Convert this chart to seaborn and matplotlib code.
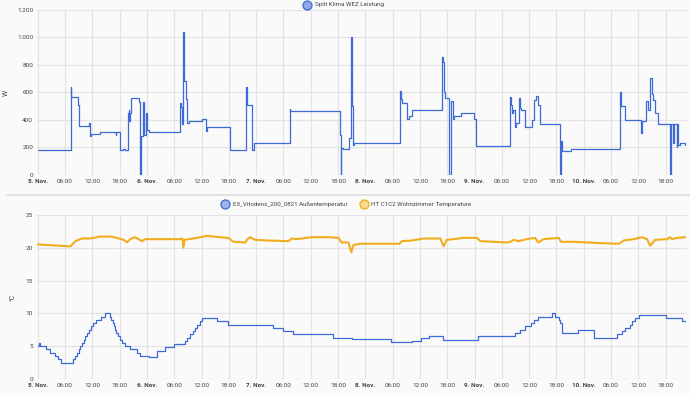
# History chart: Split Klima power + temperatures, 5.-10. Nov.

import numpy as np
import matplotlib
matplotlib.use("Agg")
import matplotlib.pyplot as plt
import seaborn as sns


# Power (W), hours since 5. Nov 00:00, step values
power_h = [0, 7.25, 7.4, 8.85, 9.15, 11.3, 11.6, 11.7, 13.6, 17.1, 17.25, 18.1, 18.8, 19.1,
           19.85, 20.05, 20.15, 20.35, 20.55, 22.25, 22.55, 22.75, 23.05, 23.25, 23.75, 23.95,
           24.35, 31.2, 31.4, 31.8, 32.0, 32.2, 32.55, 32.75, 32.9, 33.2, 36.15, 36.95, 37.25,
           42.3, 45.7, 45.9, 46.1, 47.0, 47.5, 55.4, 55.55, 66.35, 66.55, 66.75, 67.05, 68.5,
           68.8, 69.1, 69.3, 69.5, 79.65, 79.85, 80.15, 81.25, 81.55, 82.35, 88.75, 89.0, 89.2,
           89.5, 90.4, 90.8, 91.3, 91.6, 92.95, 95.85, 96.35, 103.7, 104.0, 104.3, 104.5, 104.8,
           105.2, 105.7, 106.0, 106.3, 107.2, 108.65, 109.15, 109.55, 109.85, 110.45, 114.8,
           115.0, 115.2, 117.1, 128.0, 128.2, 129.0, 132.5, 132.9, 133.7, 134.1, 134.6, 135.0,
           135.3, 135.7, 136.25, 139.05, 139.25, 139.55, 139.75, 140.4, 140.6, 140.8, 141.1, 142.3]
power_w = [185, 640, 570, 510, 356, 376, 280, 296, 310, 290, 310, 182, 192, 182,
           448, 470, 390, 450, 560, 530, 0, 280, 530, 290, 450, 330,
           315, 520, 497, 370, 1040, 680, 550, 500, 380, 390, 410, 320, 350,
           182, 640, 520, 510, 182, 230, 478, 465, 291, 0, 194, 188, 270,
           1000, 500, 218, 232, 611, 550, 526, 405, 430, 470, 860, 820, 600,
           560, 0, 540, 405, 430, 450, 405, 210, 570, 510, 450, 470, 350,
           380, 557, 490, 470, 351, 400, 545, 575, 510, 371, 0,
           250, 177, 187, 606, 502, 398, 308, 390, 540, 470, 703, 590,
           545, 450, 371, 0, 370, 230, 370, 200, 370, 218, 230, 220]

# Outdoor temperature (°C), step values
out_h = [0, 0.2, 0.6, 1.76, 2.6, 3.7, 4.5, 5.2, 7.75, 8.2, 8.65, 9.1, 9.4, 9.7, 10.1, 10.5,
         10.8, 11.3, 11.7, 12.1, 12.9, 13.9, 14.7, 15.9, 16.2, 16.5, 16.8, 17.0, 17.3, 17.6,
         18.0, 18.6, 19.2, 20.3, 21.8, 22.4, 24.5, 26.3, 27.9, 30.0, 32.3, 32.9, 33.5, 34.1,
         34.6, 35.0, 35.6, 36.2, 39.5, 41.8, 51.8, 53.8, 56.0, 65.0, 69.07, 77.7, 82.3, 84.2,
         86.1, 89.0, 96.8, 104.8, 106.1, 107.2, 108.4, 109.1, 109.9, 113.0, 113.7, 114.5,
         114.8, 115.2, 118.7, 122.2, 127.4, 128.4, 129.1, 130.1, 130.7, 131.3, 132.1, 132.8,
         138.1, 141.6, 142.3]
out_c = [5.0, 5.5, 5.0, 4.5, 4.0, 3.5, 3.0, 2.5, 3.0, 3.5, 4.0, 4.5, 5.0, 5.5, 6.0, 6.5,
         7.0, 7.5, 8.0, 8.5, 9.0, 9.5, 10.0, 9.5, 9.0, 8.5, 8.0, 7.5, 7.0, 6.5,
         6.0, 5.5, 5.0, 4.5, 4.0, 3.5, 3.3, 4.3, 4.8, 5.3, 5.8, 6.3, 6.8, 7.3,
         7.8, 8.3, 8.8, 9.3, 8.8, 8.3, 7.8, 7.3, 6.8, 6.3, 6.1, 5.6, 5.8, 6.3,
         6.5, 6.0, 6.5, 7.0, 7.5, 8.0, 8.5, 9.0, 9.5, 10.0, 9.5, 9.0,
         8.5, 7.0, 7.5, 6.3, 6.8, 7.3, 7.8, 8.3, 8.8, 9.3, 9.8, 9.8,
         9.3, 8.8, 8.8]

# Living room temperature (°C)
room_h = [0, 7.2, 8.3, 9.7, 11.5, 13.8, 16.0, 17.4, 18.9, 19.6, 20.3, 21.2, 21.9, 22.9, 23.6,
          31.3, 31.8, 32.0, 32.3, 35.0, 37.2, 40.1, 41.9, 43.0, 45.6, 46.1, 46.7, 47.8, 50.4,
          55.1, 55.8, 56.9, 60.2, 64.2, 66.1, 66.8, 68.3, 68.9, 69.4, 70.9, 79.5, 80.1, 82.3,
          84.8, 88.5, 89.2, 89.9, 91.4, 93.6, 96.5, 97.3, 103.1, 103.9, 104.6, 105.7, 107.5,
          109.3, 110.0, 111.2, 114.5, 115.0, 117.8, 123.6, 127.6, 128.0, 128.8, 131.0, 132.8,
          133.9, 134.6, 135.7, 138.3, 139.0, 139.4, 140.5, 142.3]
room_c = [20.5, 20.2, 21.0, 21.4, 21.4, 21.7, 21.7, 21.5, 21.2, 20.8, 21.3, 21.6, 21.4, 21.0, 21.3,
          21.3, 21.4, 20.0, 21.2, 21.5, 21.8, 21.6, 21.5, 20.9, 20.8, 21.3, 21.6, 21.2, 21.1,
          21.0, 21.4, 21.3, 21.6, 21.6, 21.5, 20.8, 20.8, 19.3, 20.4, 20.6, 20.6, 21.0, 21.1,
          21.4, 21.4, 20.2, 21.2, 21.3, 21.5, 21.5, 21.0, 20.8, 20.9, 21.2, 21.0, 21.3,
          21.5, 20.8, 21.3, 21.5, 20.9, 20.9, 20.7, 20.6, 20.7, 21.1, 21.3, 21.6,
          21.3, 20.3, 21.2, 21.3, 21.6, 21.3, 21.5, 21.6]

x_ticks = list(range(0, 144, 6))
day_names = ["5. Nov.", "6. Nov.", "7. Nov.", "8. Nov.", "9. Nov.", "10. Nov."]
x_labels = []
for t in x_ticks:
    if t % 24 == 0:
        x_labels.append(day_names[t // 24])
    else:
        x_labels.append("%02d:00" % (t % 24))

power_ticks = [0, 200, 400, 600, 800, 1000, 1200]
power_labels = ["0", "200", "400", "600", "800", "1.000", "1.200"]
temp_ticks = [0, 5, 10, 15, 20, 25]

blue = "#3d6ad6"
orange = "#f2ad1f"
bg = "#fafafa"

sns.set_style("whitegrid")
plt.rcParams['font.family'] = ['Roboto', 'DejaVu Sans']

fig = plt.figure(figsize=(6.9, 3.95), dpi=100)
fig.patch.set_facecolor(bg)

ax1 = fig.add_axes([0.054, 0.557, 0.941, 0.418])
ax2 = fig.add_axes([0.054, 0.0405, 0.941, 0.4155])

sns.lineplot(x=power_h, y=power_w, ax=ax1, color=blue, linewidth=0.9,
             drawstyle="steps-post", estimator=None)
sns.lineplot(x=out_h, y=out_c, ax=ax2, color=blue, linewidth=0.9,
             drawstyle="steps-post", estimator=None)
sns.lineplot(x=room_h, y=room_c, ax=ax2, color=orange, linewidth=1.5, estimator=None)

for ax in (ax1, ax2):
    ax.set_facecolor(bg)
    ax.set_xlim(-0.1, 142.6)
    ax.set_xticks(x_ticks)
    ax.set_xticklabels(x_labels)
    for lab in ax.get_xticklabels():
        if "Nov" in lab.get_text():
            lab.set_fontweight("bold")
    ax.tick_params(axis="both", labelsize=4.6, colors="#444444", length=0, pad=3)
    ax.grid(True, color="#e3e3e3", linewidth=0.9)
    for s in ax.spines.values():
        s.set_visible(False)
    ax.set_xlabel("")

ax1.set_ylim(0, 1200)
ax1.set_yticks(power_ticks)
ax1.set_yticklabels(power_labels)
ax1.set_ylabel("W", fontsize=5, color="#444444", labelpad=5)

ax2.set_ylim(0, 25)
ax2.set_yticks(temp_ticks)
ax2.set_ylabel("°C", fontsize=5, color="#444444", labelpad=7)

# separator between the two cards
fig.add_artist(plt.Line2D([0.01, 1.0], [0.506, 0.506], color="#dcdcdc", linewidth=1.2))

# legends
def legend_item(x, y, fill, edge, text):
    fig.add_artist(plt.Line2D([x], [y], marker="o", markersize=6.5,
                              markerfacecolor=fill, markeredgecolor=edge,
                              markeredgewidth=0.9, linestyle=""))
    fig.text(x + 0.011, y, text, fontsize=4.5, color="#444444", va="center", ha="left")

legend_item(0.445, 0.988, "#8fa8e8", blue, "Split Klima WEZ Leistung")
legend_item(0.326, 0.483, "#9fb3ea", blue, "E3_Vitodens_200_0821 Außentemperatur")
legend_item(0.527, 0.483, "#f8d98f", orange, "HT C1C2 Wohnzimmer Temperature")

plt.savefig("out.png", dpi=100, facecolor=bg)
